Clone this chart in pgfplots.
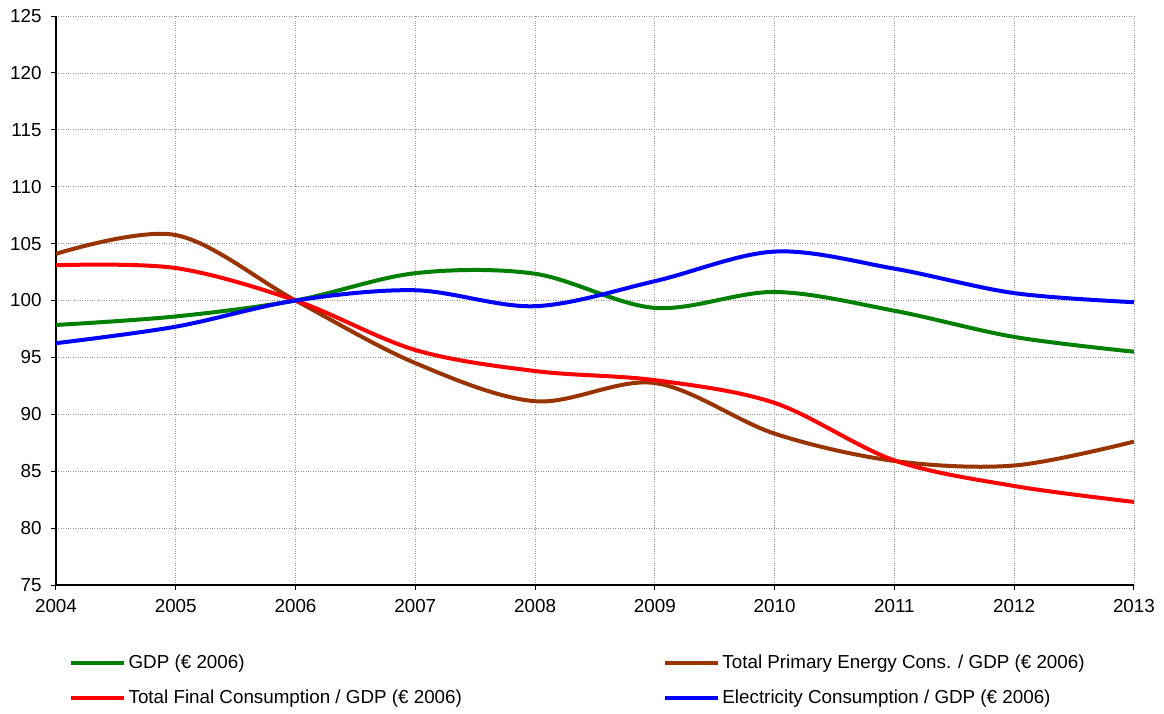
\documentclass[border=0pt]{standalone}
\usepackage{pgfplots}
\pgfplotsset{compat=1.18}
\usepackage{fontspec}
\setmainfont{Liberation Sans}
\definecolor{cgdp}{RGB}{0,128,0}
\definecolor{cprim}{RGB}{153,51,0}
\definecolor{cfin}{RGB}{255,0,0}
\definecolor{celec}{RGB}{0,0,255}
\begin{document}
\begin{tikzpicture}[x=1pt,y=1pt]
\useasboundingbox (-56,-128) rectangle (1108,585);
\begin{axis}[
  at={(0,0)}, anchor=south west,
  scale only axis, width=1078pt, height=569pt,
  xmin=2004, xmax=2013, ymin=75, ymax=125,
  xtick={2004,2005,...,2013}, ytick={75,80,...,125},
  axis lines*=left,
  axis line style={black, line width=1.2pt},
  tick align=outside, major tick length=5pt,
  tick style={black, line width=1pt},
  grid=major, grid style={dotted, gray!80, line width=0.8pt},
  /pgf/number format/assume math mode=true,
  /pgf/number format/set thousands separator={},
  ticklabel style={font=\fontsize{18.8}{21}\selectfont},
  x tick label style={yshift=-6pt},
  y tick label style={xshift=-6pt},
  legend columns=2,
  legend cell align=left,
  legend style={draw=none, fill=none, at={(axis description cs:0.0092,-0.116)}, anchor=north west,
    font=\fontsize{18.8}{21}\selectfont, row sep=16pt,
    /tikz/every even column/.append style={column sep=199pt}},
  legend image code/.code={\draw[#1, line width=4.5pt] (0pt,0pt) -- (53pt,0pt);},
  every axis plot/.append style={line width=4pt, smooth, tension=0.55, no markers},
]
\addplot[cgdp] coordinates {(2004,97.85) (2005,98.6) (2006,100) (2007,102.4) (2008,102.35) (2009,99.35) (2010,100.75) (2011,99.1) (2012,96.8) (2013,95.5)};
\addlegendentry{GDP (€ 2006)}
\addplot[cprim] coordinates {(2004,104.1) (2005,105.75) (2006,100) (2007,94.5) (2008,91.15) (2009,92.75) (2010,88.3) (2011,85.9) (2012,85.5) (2013,87.6)};
\addlegendentry{Total Primary Energy Cons. / GDP (€ 2006)}
\addplot[cfin] coordinates {(2004,103.1) (2005,102.85) (2006,100) (2007,95.65) (2008,93.8) (2009,93.0) (2010,91.0) (2011,85.95) (2012,83.7) (2013,82.3)};
\addlegendentry{Total Final Consumption / GDP (€ 2006)}
\addplot[celec] coordinates {(2004,96.25) (2005,97.7) (2006,100) (2007,100.9) (2008,99.5) (2009,101.7) (2010,104.3) (2011,102.8) (2012,100.65) (2013,99.85)};
\addlegendentry{Electricity Consumption / GDP (€ 2006)}
\end{axis}
\end{tikzpicture}
\end{document}
